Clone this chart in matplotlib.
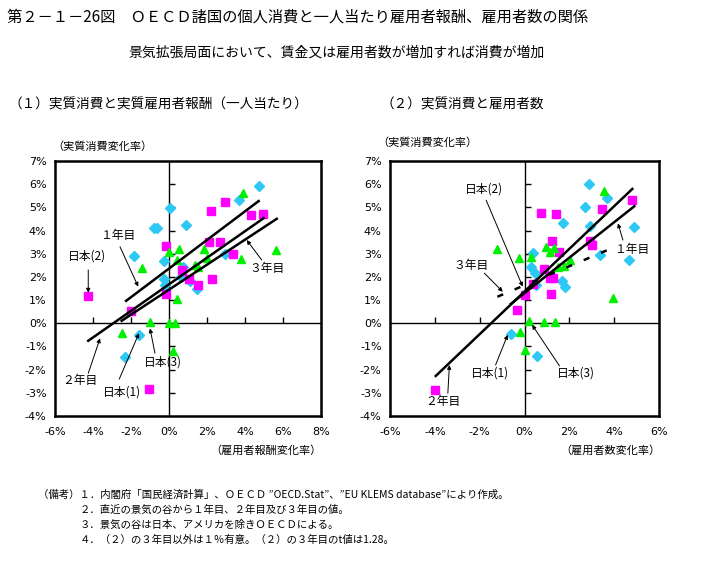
import matplotlib
matplotlib.use("Agg")
import matplotlib.pyplot as plt
import numpy as np

plt.rcParams["font.family"] = ["Noto Sans CJK JP", "DejaVu Sans"]

# ---- (1) 実質消費と実質雇用者報酬（一人当たり） ----
p1_y1_x = [4.74, 3.7, 0.07, -0.8, -0.65, 0.91, -1.84, -0.28, 2.95, -0.25, 0.75, 1.1, 1.46, -0.2, 0.63, -1.56, -2.3]
p1_y1_y = [5.92, 5.3, 4.96, 4.1, 4.12, 4.25, 2.89, 2.69, 2.97, 1.91, 2.44, 1.82, 1.5, 1.65, 2.0, -0.5, -1.47]
p1_y2_x = [2.95, 2.21, 4.32, 4.93, -0.14, 2.09, 2.68, 3.37, 0.68, 1.05, 2.28, 1.51, -4.25, -0.16, -2.0, -1.07]
p1_y2_y = [5.24, 4.85, 4.68, 4.72, 3.35, 3.52, 3.52, 3.0, 2.3, 1.91, 1.92, 1.66, 1.19, 1.25, 0.54, -2.85]
p1_y3_x = [3.89, 0.02, 0.53, 1.86, -1.4, 0.4, 1.98, 3.79, 5.65, 1.38, 1.5, 0.42, -1.0, 0.0, 0.33, -2.49, 0.23]
p1_y3_y = [5.63, 3.06, 3.22, 3.22, 2.37, 2.73, 2.8, 2.76, 3.14, 2.53, 2.44, 1.03, 0.07, 0.03, 0.03, -0.4, -1.18]
# 回帰線（1年目, 2年目, 3年目）
p1_fit_slope = [0.617, 0.573, 0.539]
p1_fit_icpt = [2.36, 1.68, 1.45]
p1_fit_xmin = [-2.26, -4.25, -2.49]
p1_fit_xmax = [4.72, 4.98, 5.67]

# ---- (2) 実質消費と雇用者数 ----
p2_y1_x = [2.88, 3.7, 2.7, 1.73, 2.94, 4.9, 0.37, 3.37, 4.68, 0.31, 0.46, 1.69, 1.82, 0.52, -0.61, 0.54]
p2_y1_y = [6.0, 5.39, 5.01, 4.32, 4.19, 4.14, 3.03, 2.93, 2.73, 2.44, 2.16, 1.84, 1.57, 1.65, -0.46, -1.42]
p2_y2_x = [0.75, 1.39, 3.44, 4.78, 1.21, 1.52, 2.93, 2.99, 0.85, 1.28, 1.12, 0.37, 1.16, 0.04, -0.33, -3.99]
p2_y2_y = [4.77, 4.72, 4.93, 5.31, 3.56, 3.06, 3.56, 3.39, 2.34, 1.97, 1.97, 1.69, 1.28, 1.22, 0.59, -2.86]
p2_y3_x = [3.53, -1.21, -0.25, 0.31, 0.94, 1.31, 1.12, 2.05, 1.5, 1.75, 3.96, 0.19, 0.86, 1.37, -0.21, 0.01]
p2_y3_y = [5.72, 3.2, 2.8, 2.87, 3.3, 3.26, 3.09, 2.73, 2.44, 2.47, 1.08, 0.11, 0.07, 0.07, -0.36, -1.15]
p2_fit_slope = [0.765, 0.92, 0.41]
p2_fit_icpt = [1.3, 1.37, 1.64]
p2_fit_xmin = [-0.61, -3.96, -1.21]
p2_fit_xmax = [4.9, 4.81, 3.96]

yticks = [-4, -3, -2, -1, 0, 1, 2, 3, 4, 5, 6, 7]
p1_xticks = [-6, -4, -2, 0, 2, 4, 6, 8]
p2_xticks = [-6, -4, -2, 0, 2, 4, 6]

C_CYAN = "#2EC8F5"
C_MAG = "#FF00FF"
C_GRN = "#00F000"

fig = plt.figure(figsize=(7.2, 5.62), dpi=100)


def px(x, y):
    return x / 720, 1 - y / 562


def panel(rect, xticks, series, fits, dashed_last=False):
    ax = fig.add_axes(rect)
    ax.set_xlim(xticks[0], xticks[-1])
    ax.set_ylim(yticks[0], yticks[-1])
    ax.set_xticks(xticks)
    ax.set_yticks(yticks)
    ax.set_xticklabels([f"{t}%" for t in xticks], family="DejaVu Sans")
    ax.set_yticklabels([f"{t}%" for t in yticks], family="DejaVu Sans")
    ax.tick_params(length=0, labelsize=8)
    ax.tick_params(axis="x", pad=8)
    ax.tick_params(axis="y", pad=6)
    for s in ax.spines.values():
        s.set_linewidth(1.8)

    ax.axhline(0, color="k", lw=1, zorder=2)
    ax.axvline(0, color="k", lw=1, zorder=2)
    xt = [t for t in xticks[1:-1] if t != 0]
    ax.plot(xt, [0] * len(xt), ls="none", marker=2, ms=4, mew=1, color="k")
    yt = [t for t in yticks[1:-1] if t != 0]
    ax.plot([0] * len(yt), yt, ls="none", marker=1, ms=4, mew=1, color="k")

    (x1, y1), (x2, y2), (x3, y3) = series
    ax.plot(x1, y1, ls="none", marker="D", ms=5.3, color=C_CYAN, zorder=3)
    ax.plot(x2, y2, ls="none", marker="s", ms=6, color=C_MAG, zorder=3)
    ax.plot(x3, y3, ls="none", marker="^", ms=6.2, color=C_GRN, zorder=3)

    slopes, icpts, xmins, xmaxs = fits
    for i in range(3):
        xx = np.array([xmins[i], xmaxs[i]])
        ls = (0, (2.5, 5)) if (dashed_last and i == 2) else "-"
        ax.plot(xx, icpts[i] + slopes[i] * xx, color="k", lw=1.8, ls=ls, zorder=4)
    return ax


def note(ax, text, txy, start, tip):
    ax.text(txy[0], txy[1], text, fontsize=8.5, ha="center", va="center", zorder=6)
    ax.annotate("", xy=tip, xytext=start,
                arrowprops=dict(arrowstyle="-|>", lw=0.7, color="k", mutation_scale=6,
                                shrinkA=0, shrinkB=0), zorder=6)


ax1 = panel([55 / 720, 1 - 416 / 562, 266 / 720, 255 / 562], p1_xticks,
            [(p1_y1_x, p1_y1_y), (p1_y2_x, p1_y2_y), (p1_y3_x, p1_y3_y)],
            [p1_fit_slope, p1_fit_icpt, p1_fit_xmin, p1_fit_xmax])
note(ax1, "１年目", (-2.68, 3.78), (-2.58, 3.30), (-1.62, 1.58))
note(ax1, "日本(2)", (-4.33, 2.90), (-4.25, 2.30), (-4.25, 1.32))
note(ax1, "３年目", (5.14, 2.37), (4.88, 2.73), (4.09, 3.59))
note(ax1, "２年目", (-4.68, -2.49), (-4.25, -2.16), (-3.63, -0.65))
note(ax1, "日本(1)", (-2.49, -2.97), (-2.62, -2.41), (-1.58, -0.43))
note(ax1, "日本(3)", (-0.33, -1.68), (-0.74, -1.29), (-1.0, -0.22))

ax2 = panel([390 / 720, 1 - 416 / 562, 269 / 720, 255 / 562], p2_xticks,
            [(p2_y1_x, p2_y1_y), (p2_y2_x, p2_y2_y), (p2_y3_x, p2_y3_y)],
            [p2_fit_slope, p2_fit_icpt, p2_fit_xmin, p2_fit_xmax], dashed_last=True)
note(ax2, "日本(2)", (-1.79, 5.78), (-1.71, 5.31), (-0.08, 1.58))
note(ax2, "３年目", (-2.38, 2.51), (-1.79, 2.16), (-0.97, 1.36))
note(ax2, "１年目", (4.76, 3.20), (4.39, 3.59), (4.17, 4.31))
note(ax2, "日本(1)", (-1.52, -2.16), (-1.29, -1.80), (-0.75, -0.50))
note(ax2, "日本(3)", (2.31, -2.16), (1.56, -1.84), (0.34, -0.07))
note(ax2, "２年目", (-3.65, -3.38), (-3.42, -3.02), (-3.35, -1.80))

# texts
fig.text(*px(7, 17), "第２－１－26図　ＯＥＣＤ諸国の個人消費と一人当たり雇用者報酬、雇用者数の関係",
         fontsize=11, ha="left", va="center")
fig.text(*px(337, 53), "景気拡張局面において、賃金又は雇用者数が増加すれば消費が増加",
         fontsize=10, ha="center", va="center")
fig.text(*px(8, 105), "（１）実質消費と実質雇用者報酬（一人当たり）", fontsize=9.8, ha="left", va="center")
fig.text(*px(381, 105), "（２）実質消費と雇用者数", fontsize=9.8, ha="left", va="center")
fig.text(*px(52, 147), "（実質消費変化率）", fontsize=8, ha="left", va="center")
fig.text(*px(377, 143), "（実質消費変化率）", fontsize=8, ha="left", va="center")
fig.text(*px(322, 451), "（雇用者報酬変化率）", fontsize=8, ha="right", va="center")
fig.text(*px(660, 451), "（雇用者数変化率）", fontsize=8, ha="right", va="center")

notes = [
    "（備考）１．内閣府「国民経済計算」、ＯＥＣＤ ”OECD.Stat”、”EU KLEMS database”により作成。",
    "２．直近の景気の谷から１年目、２年目及び３年目の値。",
    "３．景気の谷は日本、アメリカを除きＯＥＣＤによる。",
    "４．（２）の３年目以外は１％有意。（２）の３年目のt値は1.28。",
]
fig.text(*px(38, 495), notes[0], fontsize=7.5, ha="left", va="center")
for i, t in enumerate(notes[1:]):
    fig.text(*px(80, 510 + 15 * i), t, fontsize=7.5, ha="left", va="center")

fig.savefig("out.png", dpi=100)
